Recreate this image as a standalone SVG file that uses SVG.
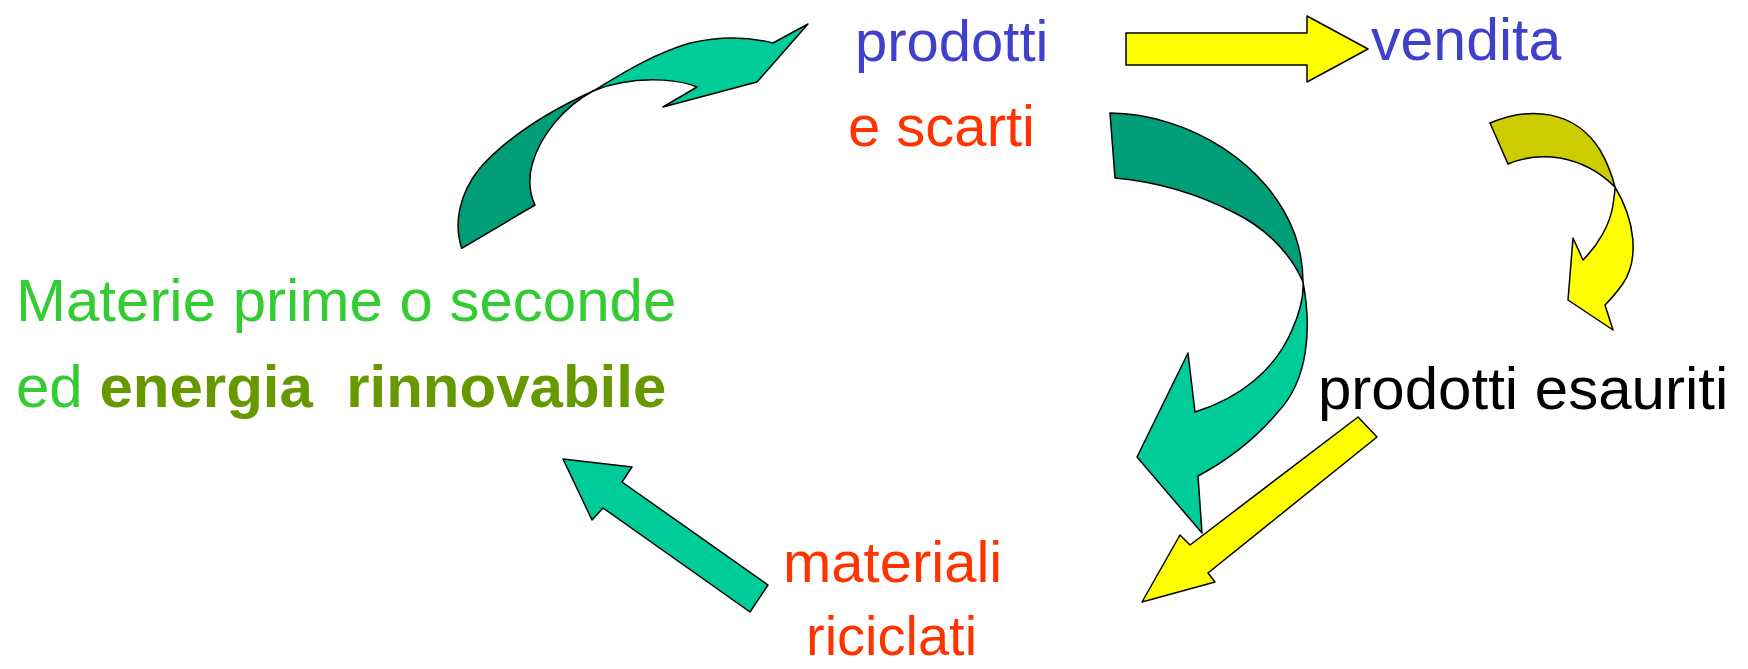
<svg xmlns="http://www.w3.org/2000/svg" width="1748" height="669" viewBox="0 0 1748 669">
<style>
  text { font-family: "Liberation Sans", Arial, sans-serif; font-size: 58px; }
  .blue { fill: #4040CC; }
  .red { fill: #FF3300; }
  .lgreen { fill: #33CC33; }
  .olive { fill: #669900; font-weight: bold; }
  .black { fill: #000000; }
  .arr { stroke: #000000; stroke-width: 1.5; stroke-linejoin: round; }
  .gl { fill: #00CC99; }
  .gd { fill: #009E78; }
  .yl { fill: #FFFF00; }
  .yd { fill: #CCCC00; }
</style>
<rect width="1748" height="669" fill="#FFFFFF"/>

<g id="connectors">
  <g id="arrow-materie-prodotti">
    <path class="arr gd" d="M461.7,248.3 C454,225 458,195 480,168 C505,140 545,113 593,91 C565,106 540,135 532,165 C528,180 530,195 535,205 Z"/>
    <path class="arr gl" d="M593,91 C620,75 650,55 690,43 C720,36 750,37 773,43 L808,24 L757,82 L663,107 L697,87 C680,80 650,77 620,83 C608,85 600,88 593,91 Z"/>
  </g>
  <g id="arrow-prodotti-vendita">
    <path class="arr yl" d="M1126,33 L1307,33 L1307,16 L1368,49 L1307,82 L1307,65 L1126,65 Z"/>
  </g>
  <g id="arrow-scarti-materiali">
    <path class="arr gd" d="M1110,113 C1190,114 1270,165 1295,235 C1301,252 1303,268 1303,282 C1290,252 1265,228 1235,213 C1200,195 1160,182 1115,178 Z"/>
    <path class="arr gl" d="M1303,282 C1312,330 1308,380 1278,412 C1256,438 1228,460 1198,476 L1202,533 L1137,457 L1188,353 L1195,412 C1240,398 1275,370 1292,330 C1300,312 1304,296 1303,282 Z"/>
  </g>
  <g id="arrow-vendita-esauriti">
    <path class="arr yd" d="M1490,123 C1530,106 1575,110 1600,150 C1607,162 1612,175 1615,187 C1600,172 1582,162 1560,158 C1540,155 1522,158 1508,164 Z"/>
    <path class="arr yl" d="M1615,187 C1635,220 1640,260 1622,285 C1616,293 1610,300 1605,305 L1613,330 L1568,300 L1573,238 L1583,260 C1598,245 1610,225 1613,205 C1614,198 1615,192 1615,187 Z"/>
  </g>
  <g id="arrow-esauriti-materiali">
    <path class="arr yl" d="M1358,417 L1377,437 L1208,573 L1215,582 L1142,602 L1180,535 L1190,545 Z"/>
  </g>
  <g id="arrow-materiali-materie">
    <path class="arr gl" d="M563,459 L632,467 L622,482 L768,585 L750,612 L603,508 L592,520 Z"/>
  </g>
</g>

<g id="node-prodotti">
  <text class="blue" x="855" y="61">prodotti</text>
  <text class="red" x="848" y="146">e scarti</text>
</g>
<g id="node-vendita">
  <text class="blue" x="1371" y="60" style="font-size:59px">vendita</text>
</g>
<g id="node-materie">
  <text class="lgreen" x="16" y="321" style="font-size:60px">Materie prime o seconde</text>
  <text x="16" y="407" style="font-size:60px" xml:space="preserve"><tspan class="lgreen">ed </tspan><tspan class="olive">energia  rinnovabile</tspan></text>
</g>
<g id="node-esauriti">
  <text class="black" x="1318" y="409" style="font-size:60px">prodotti esauriti</text>
</g>
<g id="node-materiali">
  <text class="red" x="783" y="582">materiali</text>
  <text class="red" x="806" y="655" style="font-size:56px">riciclati</text>
</g>
</svg>
